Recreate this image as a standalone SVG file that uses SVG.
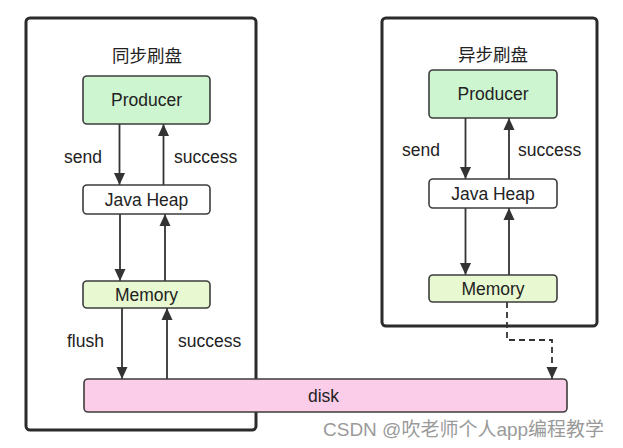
<svg xmlns="http://www.w3.org/2000/svg" width="623" height="448" viewBox="0 0 623 448">
<style>
.frame{fill:#fff;stroke:#2b2b2b;stroke-width:3}
.node{stroke:#3c3c3c;stroke-width:1.6}
.prod{fill:#cdf5d0}
.heap{fill:#fff}
.mem{fill:#e8f8d0}
.disk{fill:#fccde8}
text{font-family:"Liberation Sans",Arial,sans-serif;fill:#222}
.nt{font-size:17.5px;text-anchor:middle}
.lb{font-size:17.5px}
.title{font-family:"Noto Sans CJK SC",sans-serif;font-size:17.5px;text-anchor:middle}
.edge{stroke:#333;stroke-width:1.8;fill:none}
.dash{stroke:#333;stroke-width:1.8;fill:none;stroke-dasharray:6,4}
.wm{font-family:"Liberation Sans","Noto Sans CJK SC",sans-serif;font-size:19px;fill:#9a9a9a}
</style>
<defs>
<marker id="ah" viewBox="0 0 10 12" refX="12" refY="6" markerWidth="10" markerHeight="12" markerUnits="userSpaceOnUse" orient="auto">
<path d="M0,0.5 L12,6 L0,11.5 z" fill="#333"/>
</marker>
</defs>
<rect fill="#fff" width="623" height="448"/>
<g id="sync-frame"><rect class="frame" x="26" y="18" width="230" height="412" rx="4"/><text class="title" x="147" y="62">同步刷盘</text></g>
<g id="async-frame"><rect class="frame" x="382" y="18" width="215" height="308" rx="4"/><text class="title" x="493" y="61">异步刷盘</text></g>
<g id="connectors">
<line class="edge" x1="119.5" y1="124" x2="119.5" y2="185" marker-end="url(#ah)"/>
<line class="edge" x1="163.5" y1="185" x2="163.5" y2="124" marker-end="url(#ah)"/>
<line class="edge" x1="120" y1="214" x2="120" y2="281" marker-end="url(#ah)"/>
<line class="edge" x1="165" y1="281" x2="165" y2="214" marker-end="url(#ah)"/>
<line class="edge" x1="122" y1="308" x2="122" y2="379" marker-end="url(#ah)"/>
<line class="edge" x1="167" y1="379" x2="167" y2="308" marker-end="url(#ah)"/>
<line class="edge" x1="465.5" y1="118" x2="465.5" y2="179" marker-end="url(#ah)"/>
<line class="edge" x1="509" y1="179" x2="509" y2="118" marker-end="url(#ah)"/>
<line class="edge" x1="465.5" y1="208" x2="465.5" y2="275" marker-end="url(#ah)"/>
<line class="edge" x1="509" y1="275" x2="509" y2="208" marker-end="url(#ah)"/>
<polyline class="dash" points="507,302 507,340 552,340 552,379" marker-end="url(#ah)"/>
<text class="lb" x="64" y="163">send</text>
<text class="lb" x="174" y="163">success</text>
<text class="lb" x="67" y="347">flush</text>
<text class="lb" x="178" y="347">success</text>
<text class="lb" x="402" y="156">send</text>
<text class="lb" x="518" y="156">success</text>
</g>
<g id="sync-producer"><rect class="node prod" x="83" y="76" width="127" height="48" rx="4"/><text class="nt" x="146.5" y="106">Producer</text></g>
<g id="sync-heap"><rect class="node heap" x="83" y="185" width="127" height="29" rx="4"/><text class="nt" x="146.5" y="205.5">Java Heap</text></g>
<g id="sync-memory"><rect class="node mem" x="83" y="281" width="127" height="27" rx="4"/><text class="nt" x="146.5" y="300.5">Memory</text></g>
<g id="async-producer"><rect class="node prod" x="429" y="70" width="128" height="48" rx="4"/><text class="nt" x="493" y="100">Producer</text></g>
<g id="async-heap"><rect class="node heap" x="429" y="179" width="128" height="29" rx="4"/><text class="nt" x="493" y="199.5">Java Heap</text></g>
<g id="async-memory"><rect class="node mem" x="429" y="275" width="128" height="27" rx="4"/><text class="nt" x="493" y="294.5">Memory</text></g>
<g id="disk"><rect class="node disk" x="84" y="379" width="483" height="33" rx="4"/><text class="lb" x="308" y="401.5">disk</text></g>
<text class="wm" x="323" y="436">CSDN @吹老师个人app编程教学</text>
</svg>
